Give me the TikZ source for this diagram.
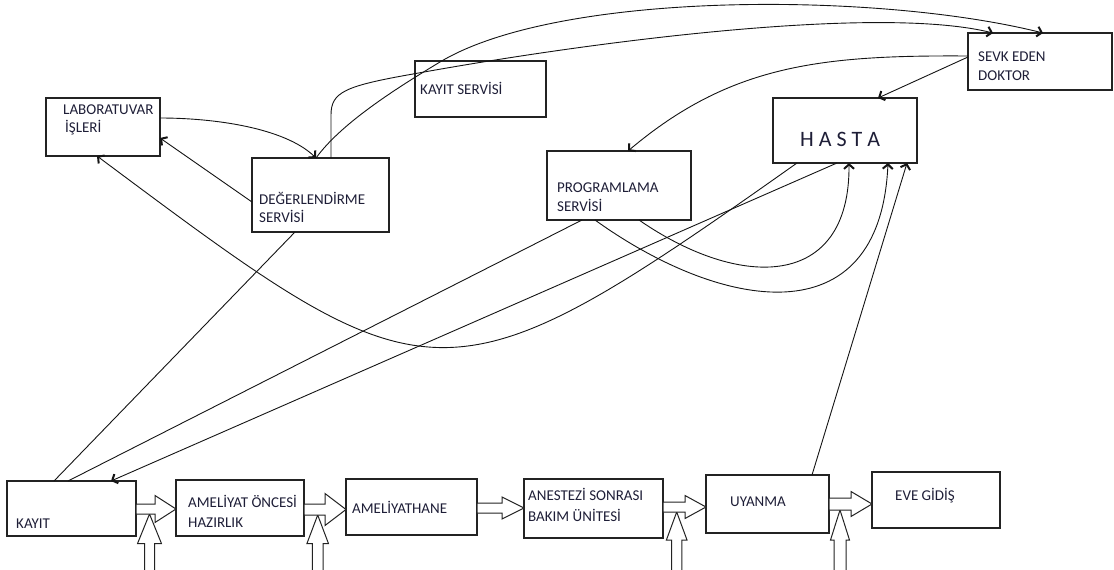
\documentclass[tikz,border=0pt]{standalone}
\usepackage{fontspec}
\setmainfont{Carlito}
\usetikzlibrary{arrows.meta}
\definecolor{boxc}{RGB}{35,35,35}
\definecolor{linec}{RGB}{20,20,20}
\definecolor{txtc}{RGB}{30,30,55}
\newcommand\harr[6]{\draw[blk] (#1.east) ++(0,#2-#5) -- ++(#3,0) -- ++(0,#5-#6) -- ++(#4,#6) -- ++(-#4,#6) -- ++(0,#5-#6) -- ++(-#3,0) -- cycle;}
\newcommand\uarr[5]{\draw[blk] (#1-#2,572) -- (#1-#2,#4) -- (#1-#3,#4) -- (#1,#5) -- (#1+#3,#4) -- (#1+#2,#4) -- (#1+#2,572);}
\begin{document}
\begin{tikzpicture}[x=1pt,y=-1pt,
  box/.style={draw=boxc, line width=1.3pt, inner sep=0pt, outer sep=0pt, anchor=north west},
  txt/.style={anchor=base west, inner sep=0pt, text=txtc, font=\fontsize{15}{18}\selectfont},
  con/.style={draw=linec, line width=0.9pt},
  arr/.style={con, -{Straight Barb[length=4.5pt,width=10pt,line width=2pt]}},
  blk/.style={draw=boxc, line width=1pt, fill=white}]
\useasboundingbox (0,0) rectangle (1114,570);
% boxes
\node[box, minimum width=114pt, minimum height=58pt] (lab) at (46,98) {};
\node[box, minimum width=137pt, minimum height=74pt] (deg) at (252,158) {};
\node[box, minimum width=131pt, minimum height=56pt] (ks) at (415,61) {};
\node[box, minimum width=144pt, minimum height=57pt] (sevk) at (968,33) {};
\node[box, minimum width=144pt, minimum height=65pt] (hasta) at (773,98) {};
\node[box, minimum width=144pt, minimum height=69pt] (prog) at (547,151) {};
\node[box, minimum width=129pt, minimum height=55pt] (kayit) at (7,481) {};
\node[box, minimum width=128pt, minimum height=56pt] (ao) at (176,480) {};
\node[box, minimum width=131pt, minimum height=56pt] (amh) at (346,479) {};
\node[box, minimum width=139pt, minimum height=59pt] (anes) at (524,479) {};
\node[box, minimum width=123pt, minimum height=58pt] (uy) at (706,475) {};
\node[box, minimum width=128pt, minimum height=56pt] (eve) at (872,472) {};
% texts
\node[txt] (labt1) at (63,114) {LABORATUVAR};
\node[txt] (labt2) at (65,132) {İŞLERİ};
\node[txt] (degt1) at (259,204) {DEĞERLENDİRME};
\node[txt] (degt2) at (259,222) {SERVİSİ};
\node[txt] (kst) at (420,94) {KAYIT SERVİSİ};
\node[txt] (sevkt1) at (978,61) {SEVK EDEN};
\node[txt] (sevkt2) at (978,80) {DOKTOR};
\node[txt, font=\fontsize{22}{25}\selectfont] (hastat) at (800,146.5) {H A S T A};
\node[txt] (progt1) at (557,192.5) {PROGRAMLAMA};
\node[txt] (progt2) at (557,211) {SERVİSİ};
\node[txt] (kayitt) at (16,528) {KAYIT};
\node[txt] (aot1) at (188,507) {AMELİYAT ÖNCESİ};
\node[txt] (aot2) at (188,527.5) {HAZIRLIK};
\node[txt] (amht) at (352,513) {AMELİYATHANE};
\node[txt] (anest1) at (528,500) {ANESTEZİ SONRASI};
\node[txt] (anest2) at (528,521.5) {BAKIM ÜNİTESİ};
\node[txt] (uyt) at (730,506) {UYANMA};
\node[txt] (evet) at (895,500) {EVE GİDİŞ};
% connectors
\draw[arr] ([yshift=-20pt]lab.north east) .. controls (215,118) and (285,128) .. ([xshift=64pt]deg.north west);
\draw[arr] ([yshift=-44pt]deg.north west) -- ([yshift=-40pt]lab.north east);
\draw[arr] ([xshift=24pt]hasta.south west) .. controls (441,415) and (431,405) .. ([xshift=51pt]lab.south west);
\draw[arr] ([xshift=79pt]deg.north west) -- (331,115) .. controls (331,92) and (345,86) .. (413,74) .. controls (600,40) and (880,5) .. ([xshift=25pt]sevk.north west);
\draw[arr] ([xshift=64pt]deg.north west) .. controls (340,125) and (390,92) .. (440,62) .. controls (560,-10) and (880,-8) .. ([xshift=75pt]sevk.north west);
\draw[arr] ([yshift=-23pt]sevk.north west) .. controls (820,55) and (730,65) .. ([xshift=81pt]prog.north west);
\draw[arr] ([yshift=-24pt]sevk.north west) -- ([xshift=105pt]hasta.north west);
\draw[con] ([xshift=43pt]deg.south west) -- ([xshift=47pt]kayit.north west);
\draw[con] ([xshift=35pt]prog.south west) -- ([xshift=61pt]kayit.north west);
\draw[arr] ([xshift=64pt]hasta.south west) -- ([xshift=104pt]kayit.north west);
\draw[arr] ([xshift=92pt]prog.south west) .. controls (740,290) and (850,290) .. ([xshift=76pt]hasta.south west);
\draw[arr] ([xshift=48pt]prog.south west) .. controls (720,310) and (880,340) .. ([xshift=115pt]hasta.south west);
\draw[arr] ([xshift=106pt]uy.north west) -- ([xshift=134pt]hasta.south west);
% block arrows
\uarr{149.5}{5}{12}{543.6}{514}
\uarr{317.7}{5.3}{10.8}{543.6}{515}
\uarr{676.7}{5.2}{10.3}{540}{512}
\uarr{840}{6}{9.5}{540}{510}
\harr{kayit}{0.5}{19}{21}{5}{13.5}
\harr{ao}{1.5}{21}{21}{5.5}{16}
\harr{amh}{1}{25}{22}{5}{11}
\harr{anes}{-1.5}{22}{21}{5}{11.5}
\harr{uy}{0}{22}{21}{6}{12.5}
\end{tikzpicture}
\end{document}
